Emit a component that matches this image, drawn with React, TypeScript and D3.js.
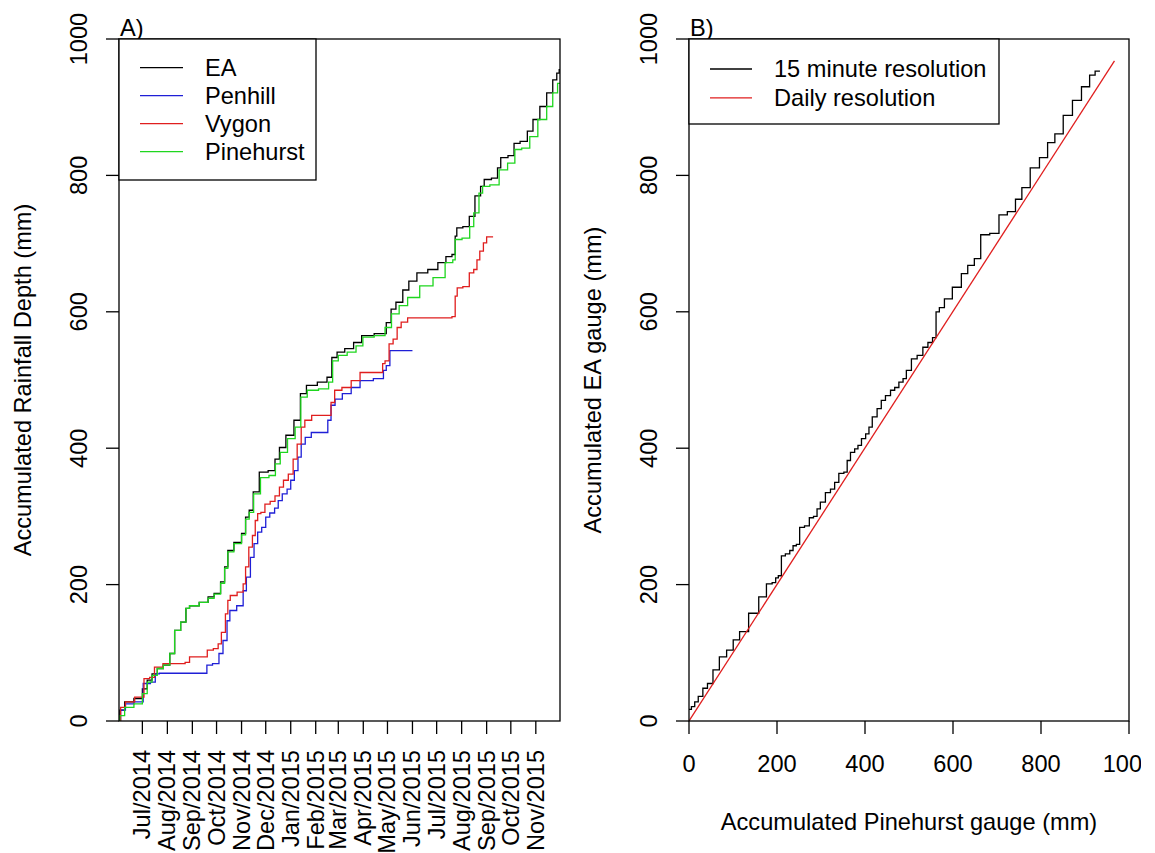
import React from "react";
import * as d3 from "d3";

// ---------- DATA ----------
const dateDomain = ["2014-06-02", "2015-12-01"];
const monthTicks = [
  "2014-07-01", "2014-08-01", "2014-09-01", "2014-10-01", "2014-11-01", "2014-12-01",
  "2015-01-01", "2015-02-01", "2015-03-01", "2015-04-01", "2015-05-01", "2015-06-01",
  "2015-07-01", "2015-08-01", "2015-09-01", "2015-10-01", "2015-11-01",
];
const depthTicks = [0, 200, 400, 600, 800, 1000];

const eaSeries: [string, number][] = [
  ["2014-06-02", 0], ["2014-06-04", 16], ["2014-06-14", 28], ["2014-06-27", 33], ["2014-07-05", 47],
  ["2014-07-09", 60], ["2014-07-17", 69], ["2014-07-22", 77], ["2014-08-01", 82], ["2014-08-07", 99],
  ["2014-08-13", 133], ["2014-08-22", 145], ["2014-08-26", 165], ["2014-08-31", 169], ["2014-09-19", 174],
  ["2014-09-22", 182], ["2014-10-04", 187], ["2014-10-08", 204], ["2014-10-14", 226], ["2014-10-16", 250],
  ["2014-10-29", 262], ["2014-11-04", 275], ["2014-11-08", 299], ["2014-11-13", 309], ["2014-11-18", 336],
  ["2014-11-28", 365], ["2014-12-10", 367], ["2014-12-15", 384], ["2014-12-21", 401], ["2014-12-31", 419],
  ["2015-01-10", 441], ["2015-01-16", 480], ["2015-01-25", 492], ["2015-02-12", 497], ["2015-02-18", 504],
  ["2015-02-24", 533], ["2015-03-03", 541], ["2015-03-15", 546], ["2015-03-25", 555], ["2015-04-04", 565],
  ["2015-04-25", 568], ["2015-05-04", 584], ["2015-05-07", 604], ["2015-05-16", 614], ["2015-05-24", 632],
  ["2015-05-31", 645], ["2015-06-13", 657], ["2015-06-27", 662], ["2015-07-08", 672], ["2015-07-17", 681],
  ["2015-07-23", 684], ["2015-07-25", 711], ["2015-07-27", 723], ["2015-08-09", 725], ["2015-08-12", 740],
  ["2015-08-23", 770], ["2015-08-26", 784], ["2015-09-01", 794], ["2015-09-13", 796], ["2015-09-16", 811],
  ["2015-09-21", 826], ["2015-10-04", 829], ["2015-10-06", 847], ["2015-10-19", 850], ["2015-10-24", 865],
  ["2015-11-02", 882], ["2015-11-10", 901], ["2015-11-19", 921], ["2015-11-25", 940], ["2015-11-29", 950],
  ["2015-12-01", 955],
];

const penhillSeries: [string, number][] = [
  ["2014-06-02", 0], ["2014-06-06", 16], ["2014-06-14", 25], ["2014-06-27", 28], ["2014-07-07", 55],
  ["2014-07-15", 57], ["2014-07-19", 69], ["2014-07-25", 70], ["2014-09-18", 70], ["2014-09-20", 82],
  ["2014-10-02", 84], ["2014-10-06", 99], ["2014-10-12", 118], ["2014-10-16", 147], ["2014-10-19", 162],
  ["2014-11-02", 169], ["2014-11-04", 191], ["2014-11-10", 211], ["2014-11-14", 240], ["2014-11-19", 260],
  ["2014-11-23", 277], ["2014-11-29", 284], ["2014-12-03", 299], ["2014-12-09", 305], ["2014-12-15", 312],
  ["2014-12-18", 323], ["2014-12-25", 333], ["2014-12-30", 340], ["2015-01-03", 353], ["2015-01-08", 367],
  ["2015-01-12", 387], ["2015-01-16", 406], ["2015-01-22", 416], ["2015-01-31", 423], ["2015-02-14", 423],
  ["2015-02-18", 441], ["2015-02-22", 463], ["2015-02-28", 472], ["2015-03-12", 480], ["2015-03-22", 489],
  ["2015-04-03", 499], ["2015-04-24", 502], ["2015-04-28", 514], ["2015-05-01", 521], ["2015-05-07", 543],
  ["2015-06-01", 543],
];

const vygonSeries: [string, number][] = [
  ["2014-06-02", 0], ["2014-06-06", 20], ["2014-06-14", 28], ["2014-06-29", 35], ["2014-07-07", 62],
  ["2014-07-13", 64], ["2014-07-19", 79], ["2014-08-03", 84], ["2014-08-20", 84], ["2014-08-26", 86],
  ["2014-08-31", 94], ["2014-09-17", 94], ["2014-09-22", 104], ["2014-10-02", 106], ["2014-10-04", 113],
  ["2014-10-10", 130], ["2014-10-14", 157], ["2014-10-16", 177], ["2014-10-20", 184], ["2014-11-02", 189],
  ["2014-11-04", 201], ["2014-11-08", 226], ["2014-11-12", 255], ["2014-11-17", 272], ["2014-11-19", 294],
  ["2014-11-23", 304], ["2014-11-27", 306], ["2014-12-03", 318], ["2014-12-10", 322], ["2014-12-15", 330],
  ["2014-12-21", 343], ["2014-12-25", 353], ["2015-01-02", 362], ["2015-01-06", 384], ["2015-01-12", 406],
  ["2015-01-16", 431], ["2015-01-21", 441], ["2015-02-02", 448], ["2015-02-18", 448], ["2015-02-22", 467],
  ["2015-02-27", 485], ["2015-03-12", 489], ["2015-03-22", 499], ["2015-04-03", 511], ["2015-04-24", 511],
  ["2015-04-26", 524], ["2015-04-30", 528], ["2015-05-06", 553], ["2015-05-10", 560], ["2015-05-16", 577],
  ["2015-05-20", 585], ["2015-06-01", 591], ["2015-07-17", 591], ["2015-07-23", 593], ["2015-07-25", 623],
  ["2015-07-28", 635], ["2015-08-08", 637], ["2015-08-13", 657], ["2015-08-19", 662], ["2015-08-21", 676],
  ["2015-08-26", 689], ["2015-08-30", 701], ["2015-09-03", 710], ["2015-09-09", 710],
];

const pinehurstSeries: [string, number][] = [
  ["2014-06-02", 0], ["2014-06-04", 8], ["2014-06-14", 20], ["2014-06-27", 25], ["2014-07-05", 40],
  ["2014-07-09", 57], ["2014-07-17", 67], ["2014-07-22", 77], ["2014-08-01", 82], ["2014-08-07", 99],
  ["2014-08-13", 133], ["2014-08-22", 145], ["2014-08-26", 165], ["2014-08-31", 169], ["2014-09-19", 174],
  ["2014-09-22", 180], ["2014-10-04", 186], ["2014-10-08", 202], ["2014-10-14", 224], ["2014-10-16", 248],
  ["2014-10-29", 260], ["2014-11-04", 273], ["2014-11-08", 296], ["2014-11-13", 306], ["2014-11-19", 333],
  ["2014-11-30", 357], ["2014-12-10", 360], ["2014-12-16", 377], ["2014-12-22", 394], ["2015-01-03", 414],
  ["2015-01-10", 431], ["2015-01-17", 475], ["2015-01-26", 485], ["2015-02-14", 487], ["2015-02-20", 497],
  ["2015-02-24", 528], ["2015-03-06", 536], ["2015-03-18", 541], ["2015-03-28", 550], ["2015-04-04", 563],
  ["2015-04-25", 565], ["2015-05-01", 577], ["2015-05-11", 597], ["2015-05-20", 609], ["2015-06-01", 621],
  ["2015-06-19", 638], ["2015-07-04", 650], ["2015-07-19", 672], ["2015-07-23", 676], ["2015-07-25", 706],
  ["2015-08-09", 708], ["2015-08-13", 725], ["2015-08-19", 745], ["2015-08-26", 774], ["2015-08-28", 784],
  ["2015-09-13", 786], ["2015-09-20", 808], ["2015-10-04", 818], ["2015-10-08", 838], ["2015-10-21", 840],
  ["2015-10-28", 857], ["2015-11-10", 882], ["2015-11-19", 901], ["2015-11-25", 921], ["2015-12-01", 935],
];

// Panel B: [accumulated Pinehurst, accumulated EA]
const fifteenMinute: [number, number][] = [
  [0, 17], [11, 21], [15, 28], [27, 36], [36, 48], [48, 55], [61, 75], [77, 94], [94, 104], [107, 119],
  [123, 131], [148, 158], [169, 182], [183, 201], [195, 203], [199, 210], [207, 213], [213, 242], [225, 245],
  [233, 250], [240, 257], [248, 259], [255, 284], [270, 286], [277, 298], [289, 300], [293, 311], [304, 321],
  [316, 335], [327, 340], [335, 350], [346, 363], [358, 365], [361, 382], [373, 394], [380, 399], [388, 404],
  [396, 414], [407, 421], [411, 431], [422, 446], [433, 458], [441, 470], [452, 477], [464, 485], [471, 489],
  [483, 497], [490, 502], [498, 514], [513, 531], [524, 536], [539, 548], [547, 555], [560, 562], [563, 600],
  [575, 606], [586, 619], [611, 636], [627, 656], [640, 668], [657, 678], [669, 713], [698, 715], [711, 742],
  [736, 747], [748, 765], [765, 782], [786, 811], [807, 826], [823, 848], [840, 861], [861, 888], [882, 910],
  [902, 930], [919, 947], [927, 953], [934, 953],
];
const dailyResolution: [number, number][] = [[0, 0], [967, 968]];
const gaugeTicks = [0, 200, 400, 600, 800, 1000];

const legendA = [
  { label: "EA", color: "#000000" },
  { label: "Penhill", color: "#1f1fd6" },
  { label: "Vygon", color: "#e01e1e" },
  { label: "Pinehurst", color: "#1fd61f" },
];
const legendB = [
  { label: "15 minute resolution", color: "#000000" },
  { label: "Daily resolution", color: "#e01e1e" },
];

// ---------- LAYOUT ----------
const W = 1155;
const H = 853;
const FONT = "'Liberation Sans', Arial, Helvetica, sans-serif";
const FS = 23.6;
const PA = { left: 119, right: 560, top: 39, bottom: 721 };
const PB = { left: 689, right: 1129, top: 39, bottom: 721 };
const TICK = 13;
const SW = 1.3;

const parse = d3.timeParse("%Y-%m-%d");
const fmtMonth = d3.timeFormat("%b/%Y");

export default function App() {
  const xA = d3.scaleTime()
    .domain([parse(dateDomain[0]) as Date, parse(dateDomain[1]) as Date])
    .range([PA.left, PA.right]);
  const yA = d3.scaleLinear().domain([0, 1000]).range([PA.bottom, PA.top]);
  const xB = d3.scaleLinear().domain([0, 1000]).range([PB.left, PB.right]);
  const yB = d3.scaleLinear().domain([0, 1000]).range([PB.bottom, PB.top]);

  const lineA = d3.line<[string, number]>()
    .x((d) => xA(parse(d[0]) as Date))
    .y((d) => yA(d[1]))
    .curve(d3.curveStep);
  const lineB = d3.line<[number, number]>()
    .x((d) => xB(d[0]))
    .y((d) => yB(d[1]))
    .curve(d3.curveStep);
  const lineStraight = d3.line<[number, number]>()
    .x((d) => xB(d[0]))
    .y((d) => yB(d[1]));

  const seriesA = [
    { data: eaSeries, color: legendA[0].color },
    { data: penhillSeries, color: legendA[1].color },
    { data: vygonSeries, color: legendA[2].color },
    { data: pinehurstSeries, color: legendA[3].color },
  ];

  const midA = (PA.top + PA.bottom) / 2;
  const midB = (PB.top + PB.bottom) / 2;

  return (
    <svg width={W} height={H} viewBox={`0 0 ${W} ${H}`}
      style={{ position: "absolute", left: 0, top: 0, background: "#fff" }}
      fontFamily={FONT} fontSize={FS}>
      <defs>
        <clipPath id="page"><rect x={0} y={0} width={1141} height={H} /></clipPath>
        <clipPath id="clipA"><rect x={PA.left} y={PA.top} width={PA.right - PA.left} height={PA.bottom - PA.top} /></clipPath>
        <clipPath id="clipB"><rect x={PB.left} y={PB.top} width={PB.right - PB.left} height={PB.bottom - PB.top} /></clipPath>
      </defs>
      <rect x={0} y={0} width={W} height={H} fill="#fff" />
      <g clipPath="url(#page)">
        {/* ---------- Panel A ---------- */}
        <g clipPath="url(#clipA)">
          {seriesA.map((s, i) => (
            <path key={i} d={lineA(s.data) || ""} fill="none" stroke={s.color} strokeWidth={SW} />
          ))}
        </g>
        <rect x={PA.left} y={PA.top} width={PA.right - PA.left} height={PA.bottom - PA.top}
          fill="none" stroke="#000" strokeWidth={SW} />
        {depthTicks.map((t) => (
          <g key={"ya" + t}>
            <line x1={PA.left - TICK} x2={PA.left} y1={yA(t)} y2={yA(t)} stroke="#000" strokeWidth={SW} />
            <text transform={`translate(${PA.left - 32},${yA(t)}) rotate(-90)`} textAnchor="middle">{t}</text>
          </g>
        ))}
        {monthTicks.map((m) => {
          const x = xA(parse(m) as Date);
          return (
            <g key={"xa" + m}>
              <line x1={x} x2={x} y1={PA.bottom} y2={PA.bottom + TICK} stroke="#000" strokeWidth={SW} />
              <text transform={`translate(${x + 8},${750}) rotate(-90)`} textAnchor="end">
                {fmtMonth(parse(m) as Date)}
              </text>
            </g>
          );
        })}
        <text transform={`translate(${PA.left - 88},${midA}) rotate(-90)`} textAnchor="middle">
          Accumulated Rainfall Depth (mm)
        </text>
        <text x={PA.left + 1} y={36}>A)</text>
        {/* legend A */}
        <rect x={PA.left} y={PA.top} width={197} height={141} fill="#fff" stroke="#000" strokeWidth={SW} />
        {legendA.map((l, i) => {
          const y = 67.7 + i * 28;
          return (
            <g key={"la" + i}>
              <line x1={140} x2={183} y1={y} y2={y} stroke={l.color} strokeWidth={SW} />
              <text x={205} y={y + 8}>{l.label}</text>
            </g>
          );
        })}

        {/* ---------- Panel B ---------- */}
        <g clipPath="url(#clipB)">
          <path d={lineB(fifteenMinute) || ""} fill="none" stroke="#000" strokeWidth={SW} />
          <path d={lineStraight(dailyResolution) || ""} fill="none" stroke={legendB[1].color} strokeWidth={SW} />
        </g>
        <rect x={PB.left} y={PB.top} width={PB.right - PB.left} height={PB.bottom - PB.top}
          fill="none" stroke="#000" strokeWidth={SW} />
        {gaugeTicks.map((t) => (
          <g key={"yb" + t}>
            <line x1={PB.left - TICK} x2={PB.left} y1={yB(t)} y2={yB(t)} stroke="#000" strokeWidth={SW} />
            <text transform={`translate(${PB.left - 32},${yB(t)}) rotate(-90)`} textAnchor="middle">{t}</text>
          </g>
        ))}
        {gaugeTicks.map((t) => (
          <g key={"xb" + t}>
            <line x1={xB(t)} x2={xB(t)} y1={PB.bottom} y2={PB.bottom + TICK} stroke="#000" strokeWidth={SW} />
            <text x={xB(t)} y={772} textAnchor="middle">{t}</text>
          </g>
        ))}
        <text transform={`translate(${PB.left - 88},${midB}) rotate(-90)`} textAnchor="middle">
          Accumulated EA gauge (mm)
        </text>
        <text x={(PB.left + PB.right) / 2} y={830} textAnchor="middle">
          Accumulated Pinehurst gauge (mm)
        </text>
        <text x={PB.left + 1} y={36}>B)</text>
        {/* legend B */}
        <rect x={PB.left} y={PB.top} width={310} height={85} fill="#fff" stroke="#000" strokeWidth={SW} />
        {legendB.map((l, i) => {
          const y = 69 + i * 28.8;
          return (
            <g key={"lb" + i}>
              <line x1={710} x2={752} y1={y} y2={y} stroke={l.color} strokeWidth={SW} />
              <text x={774} y={y + 8}>{l.label}</text>
            </g>
          );
        })}
      </g>
    </svg>
  );
}
